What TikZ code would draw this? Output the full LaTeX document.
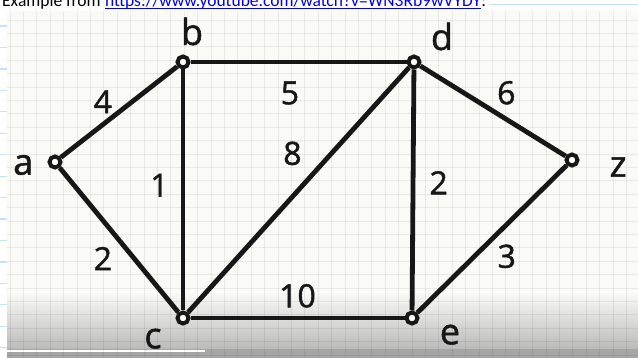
\documentclass[tikz,border=0pt]{standalone}
\usepackage{fontspec}
\setmainfont{Open Sans}
\newfontfamily\handfont[FakeBold=1.4]{Open Sans}
\newfontfamily\notefont{Carlito}
\usetikzlibrary{positioning}
\definecolor{inkBlack}{HTML}{171717}
\definecolor{pageBg}{HTML}{FAFAF7}
\definecolor{ruleBlue}{HTML}{C4E2F7}
\definecolor{linkBlue}{HTML}{0000EE}
\definecolor{barGray}{HTML}{A6A6A6}
\tikzset{
  vtx/.style={circle, draw=inkBlack, fill=white, line width=4pt,
    inner sep=0pt, minimum size=11pt},
  vname/.style={font=\handfont\fontsize{36}{36}\selectfont, text=inkBlack,
    inner sep=0pt},
  gedge/.style={draw=inkBlack, line width=4.8pt},
  wlabel/.style={font=\handfont\fontsize{32}{32}\selectfont, text=inkBlack,
    inner sep=0pt},
  note/.style={font=\notefont\fontsize{17.5}{17.5}\selectfont,
    inner sep=0pt, fill=white, anchor=base west},
  ruled/.style={draw=ruleBlue, line width=1.2pt},
  gridline/.style={draw=black, opacity=.065, line width=.8pt}
}

\begin{document}
\begin{tikzpicture}[x=1pt, y=-1pt]
\useasboundingbox (0,0) rectangle (638,358);
% notebook page
\fill[white] (0,0) rectangle (638,358);
\foreach \k in {1,...,16}
  \draw[ruled] (0,4.6+21.45*\k) -- (638,4.6+21.45*\k);

% screenshot
\fill[pageBg] (7,11) rectangle (638,358);
\shade[top color=pageBg, bottom color=black!27] (7,292) rectangle (638,349);
\fill[barGray] (7,349) rectangle (638,358);
\draw[white, line width=2pt] (7,351) -- (205,351);
\foreach \i in {0,...,46}
  \draw[gridline] (10+13.4*\i,11) -- (10+13.4*\i,358);
\foreach \j in {0,...,25}
  \draw[gridline] (7,20+13.4*\j) -- (638,20+13.4*\j);

% source line
\node[note] (intro) at (2,7) {Example from};
\node[note, text=linkBlue] (url) at ([xshift=4pt]intro.base east)
  {https://www.youtube.com/watch?v=WN3Rb9wVYDY};
\node[note] (colon) at (url.base east) {:};
\draw[linkBlue, line width=1.1pt] ([yshift=-1.8pt]url.base west)
  -- ([yshift=-1.8pt]url.base east);
\coordinate (r0) at (0,4.6);
\draw[ruled] ([xshift=3pt]colon.east |- r0) -- (638,4.6);

% graph
\node[vtx] (a) at (55,162) {};
\node[vtx] (b) at (183,62) {};
\node[vtx] (c) at (183,318) {};
\node[vtx] (d) at (414,62) {};
\node[vtx] (e) at (412,318) {};
\node[vtx] (z) at (572,160) {};

\draw[gedge] (a) -- node[wlabel, pos=.46, above left] (wab) {4} (b);
\draw[gedge] (b) -- node[wlabel, pos=.46, below=17pt] (wbd) {5} (d);
\draw[gedge] (d) -- node[wlabel, pos=.49, above right=4.5pt] (wdz) {6} (z);
\draw[gedge] (c) -- node[wlabel, pos=.56, above left=11pt] (wcd) {8} (d);
\draw[gedge] (b) -- node[wlabel, pos=.48, left=12pt] (wbc) {1} (c);
\draw[gedge] (a) -- node[wlabel, pos=.5, below left=6.5pt] (wac) {2} (c);
\draw[gedge] (d) -- node[wlabel, pos=.47, right=14pt] (wde) {2} (e);
\draw[gedge] (e) -- node[wlabel, pos=.5, below right=4.5pt] (wez) {3} (z);
\draw[gedge] (c) -- node[wlabel, pos=.5, above=8pt] (wce) {10} (e);

\node[vname, left=14pt of a, yshift=-3pt] (la) {a};
\node[vname, above=9pt of b, xshift=9pt] (lb) {b};
\node[vname, below=3pt of c, xshift=-30pt] (lc) {c};
\node[vname, above=4pt of d, xshift=28pt] (ld) {d};
\node[vname, below=-1pt of e, xshift=38pt] (le) {e};
\node[vname, right=30pt of z, yshift=-7pt] (lz) {z};
\end{tikzpicture}
\end{document}
